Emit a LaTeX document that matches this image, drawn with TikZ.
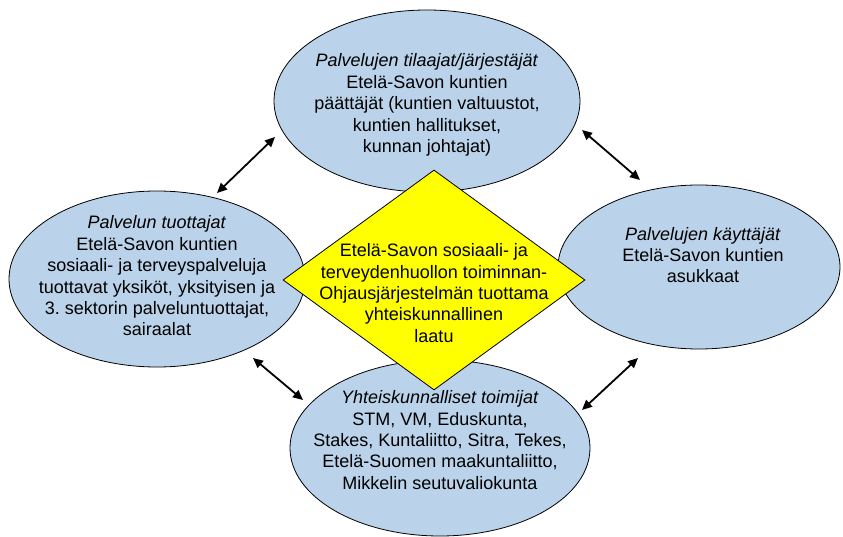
\documentclass[tikz,border=0pt]{standalone}
\usepackage{fontspec}
\setmainfont{Liberation Sans}
\usetikzlibrary{shapes.geometric,arrows.meta}
\definecolor{ellblue}{RGB}{187,211,234}
\definecolor{diayellow}{RGB}{255,255,0}
\frenchspacing
\begin{document}
\begin{tikzpicture}[x=1pt,y=-1pt,
  ell/.style={ellipse,draw=black,line width=0.8pt,fill=ellblue,inner sep=0pt},
  dia/.style={diamond,draw=black,line width=0.8pt,fill=diayellow,inner sep=0pt},
  lbl/.style={align=center,font=\fontsize{18}{21.4}\selectfont,inner sep=0pt},
  conn/.style={line width=1.8pt,{Triangle[length=10pt,width=9pt]}-{Triangle[length=10pt,width=9pt]}}]
\useasboundingbox (0,0) rectangle (843,537);
% ellipses
\node[ell,minimum width=306pt,minimum height=182pt] (top) at (427,101) {};
\node[ell,minimum width=296pt,minimum height=176pt] (left) at (157,279) {};
\node[ell,minimum width=282pt,minimum height=164pt] (right) at (699,267) {};
\node[ell,minimum width=300pt,minimum height=176pt] (bottom) at (440,448) {};
% diamond
\node[dia,minimum width=302pt,minimum height=220pt] (center) at (434,280) {};
% texts
\node[lbl] (toptext) at (427,105) {\textit{Palvelujen tilaajat/järjestäjät}\\Etelä-Savon kuntien\\päättäjät (kuntien valtuustot,\\kuntien hallitukset,\\kunnan johtajat)};
\node[lbl] (lefttext) at (157,276) {\textit{Palvelun tuottajat}\\Etelä-Savon kuntien\\sosiaali- ja terveyspalveluja\\tuottavat yksiköt, yksityisen ja\\3.\ sektorin palveluntuottajat,\\sairaalat};
\node[lbl] (righttext) at (703,255) {\textit{Palvelujen käyttäjät}\\Etelä-Savon kuntien\\asukkaat};
\node[lbl] (bottomtext) at (440,440) {\textit{Yhteiskunnalliset toimijat}\\STM, VM, Eduskunta,\\Stakes, Kuntaliitto, Sitra, Tekes,\\Etelä-Suomen maakuntaliitto,\\Mikkelin seutuvaliokunta};
\node[lbl] (centertext) at (434,293) {Etelä-Savon sosiaali- ja\\terveydenhuollon toiminnan-\\Ohjausjärjestelmän tuottama\\yhteiskunnallinen\\laatu};
% arrow endpoints
\coordinate (tlA) at (217,193);
\coordinate (tlB) at (275,137);
\coordinate (trA) at (582,130);
\coordinate (trB) at (640,180);
\coordinate (blA) at (253,358);
\coordinate (blB) at (303,400);
\coordinate (brA) at (582,410);
\coordinate (brB) at (638,358);
\draw[conn] (tlA) -- (tlB);
\draw[conn] (trA) -- (trB);
\draw[conn] (blA) -- (blB);
\draw[conn] (brA) -- (brB);
\end{tikzpicture}
\end{document}
